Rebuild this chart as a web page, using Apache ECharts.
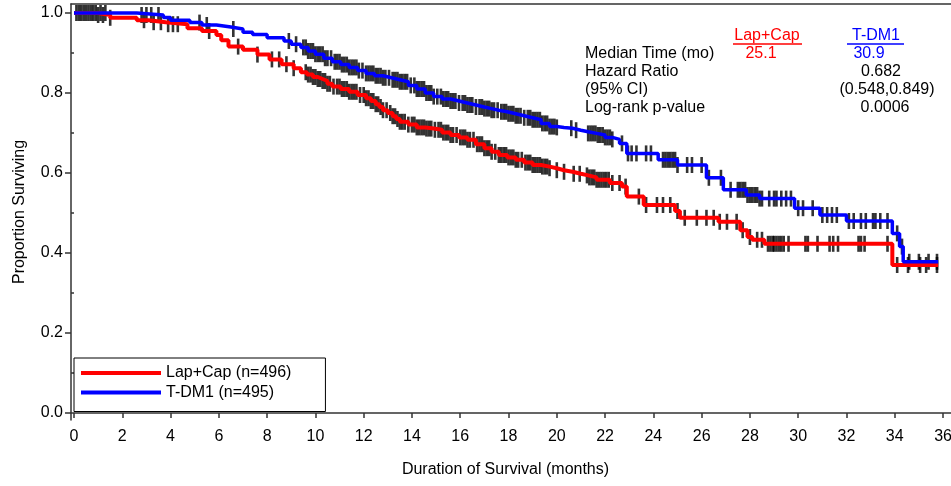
<!DOCTYPE html>
<html>
<head>
<meta charset="utf-8">
<title>Overall survival: Lap+Cap vs T-DM1</title>
<script src="https://cdn.jsdelivr.net/npm/echarts@6/dist/echarts.min.js"></script>
<style>
  html, body { margin: 0; padding: 0; background: #fff; }
  #chart { width: 951px; height: 486px; }
</style>
</head>
<body>
<div id="chart"></div>
<script>
// Kaplan-Meier steps: time of each drop (months) and survival after it
const lapCapTime = [0, 1.0, 1.5, 2.6, 3.1, 3.8, 4.7, 5.3, 5.9, 6.1, 6.4, 7.0, 7.6, 8.1, 8.6, 9.1, 9.4, 9.65,
  9.9, 10.1, 10.3, 10.5, 10.7, 11.05, 11.4, 11.75, 12.1, 12.3, 12.5, 12.65, 12.8, 13.0, 13.2, 13.35, 13.5,
  13.85, 14.2, 14.55, 14.9, 15.25, 15.6, 15.95, 16.3, 16.65, 17.0, 17.3, 17.6, 17.95, 18.3, 18.65, 19.0,
  19.35, 19.7, 20.0, 20.3, 20.65, 21.0, 21.3, 21.65, 22.2, 22.7, 22.9, 23.6, 24.9, 25.1, 26.7, 27.6,
  27.9, 28.1, 28.6, 33.9, 35.8];
const lapCapSurv = [1.000, 0.995, 0.988, 0.982, 0.977, 0.972, 0.962, 0.955, 0.945, 0.932, 0.916, 0.908, 0.896,
  0.884, 0.872, 0.862, 0.852, 0.846, 0.840, 0.835, 0.830, 0.823, 0.816, 0.810, 0.803, 0.795, 0.787, 0.780,
  0.772, 0.765, 0.757, 0.750, 0.742, 0.735, 0.728, 0.721, 0.714, 0.711, 0.708, 0.701, 0.695, 0.689, 0.683,
  0.672, 0.662, 0.653, 0.645, 0.639, 0.633, 0.626, 0.620, 0.616, 0.612, 0.607, 0.603, 0.598, 0.594, 0.589,
  0.583, 0.575, 0.566, 0.541, 0.520, 0.505, 0.488, 0.478, 0.457, 0.440, 0.433, 0.423, 0.370, 0.370];

const tdm1Time = [0, 2.6, 3.7, 4.0, 4.8, 5.3, 5.9, 6.5, 7.0, 7.4, 8.0, 8.7, 9.0, 9.4, 9.7, 10.0, 10.35, 10.7,
  11.05, 11.4, 11.75, 12.1, 12.45, 12.8, 13.15, 13.5, 13.85, 14.2, 14.55, 14.9, 15.25, 15.6, 15.95, 16.3,
  16.65, 17.0, 17.3, 17.6, 17.95, 18.3, 18.65, 19.0, 19.35, 19.7, 20.0, 20.3, 20.65, 21.0, 21.3, 21.65,
  22.0, 22.3, 22.6, 22.9, 24.2, 25.0, 26.2, 26.9, 27.85, 28.4, 29.85, 30.9, 32.0, 33.9, 34.2, 34.35, 35.8];
const tdm1Surv = [1.000, 0.995, 0.989, 0.982, 0.976, 0.970, 0.965, 0.960, 0.952, 0.946, 0.938, 0.930, 0.922,
  0.914, 0.905, 0.897, 0.887, 0.878, 0.871, 0.864, 0.856, 0.849, 0.843, 0.838, 0.833, 0.828, 0.819, 0.810,
  0.800, 0.791, 0.785, 0.780, 0.775, 0.770, 0.765, 0.761, 0.757, 0.753, 0.748, 0.743, 0.738, 0.733, 0.724,
  0.716, 0.714, 0.712, 0.707, 0.703, 0.699, 0.695, 0.689, 0.684, 0.674, 0.649, 0.633, 0.620, 0.588, 0.558,
  0.545, 0.536, 0.512, 0.495, 0.480, 0.449, 0.416, 0.378, 0.378];

// Censoring times (months)
const lapCapCensor = [0.2, 0.4, 0.6, 0.8, 1.0, 1.2, 1.5, 2.9, 3.3, 3.6, 3.9, 4.1, 4.3, 5.6, 6.8, 7.6, 8.2, 8.5,
  8.8, 9.1, 9.6, 9.7, 9.8, 9.9, 10.0, 10.1, 10.2, 10.3, 10.4, 10.5, 10.6, 10.75, 10.9, 11.0, 11.1, 11.2,
  11.3, 11.4, 11.5, 11.6, 11.7, 11.85, 12.0, 12.1, 12.2, 12.3, 12.4, 12.5, 12.6, 12.7, 12.8, 12.95, 13.1,
  13.2, 13.3, 13.4, 13.5, 13.6, 13.7, 13.85, 14.0, 14.1, 14.2, 14.3, 14.4, 14.5, 14.6, 14.7, 14.8, 14.95,
  15.1, 15.2, 15.3, 15.4, 15.5, 15.6, 15.7, 15.85, 16.0, 16.1, 16.2, 16.3, 16.4, 16.55, 16.7, 16.8, 16.9,
  17.0, 17.1, 17.2, 17.3, 17.45, 17.6, 17.7, 17.8, 17.9, 18.0, 18.1, 18.2, 18.3, 18.4, 18.55, 18.7, 18.8,
  18.9, 19.0, 19.1, 19.2, 19.3, 19.4, 19.5, 19.6, 19.7, 20.0, 20.3, 20.7, 20.95, 21.25, 21.35, 21.45,
  21.55, 21.65, 21.75, 21.85, 21.95, 22.05, 22.15, 22.3, 22.6, 22.85, 23.4, 23.7, 24.15, 24.4, 24.7, 25.0,
  25.3, 25.8, 26.2, 26.5, 26.75, 27.05, 27.45, 27.7, 28.0, 28.3, 28.5, 28.75, 28.85, 28.95, 29.0, 29.1,
  29.2, 29.3, 29.4, 29.6, 30.3, 30.4, 30.8, 31.3, 31.45, 31.65, 32.5, 32.6, 32.75, 33.7, 34.1, 34.55,
  35.05, 35.3, 35.75];
const tdm1Censor = [0.1, 0.3, 0.5, 0.7, 0.9, 1.1, 1.3, 2.8, 3.0, 3.2, 3.5, 5.2, 5.5, 6.6, 8.9, 9.2, 9.5, 9.6,
  9.7, 9.8, 9.9, 10.0, 10.1, 10.2, 10.3, 10.4, 10.5, 10.65, 10.8, 10.9, 11.0, 11.1, 11.2, 11.3, 11.4, 11.5,
  11.6, 11.7, 11.8, 11.95, 12.1, 12.2, 12.3, 12.4, 12.5, 12.6, 12.7, 12.8, 12.9, 13.05, 13.2, 13.3, 13.4,
  13.5, 13.6, 13.7, 13.8, 13.95, 14.1, 14.2, 14.3, 14.4, 14.5, 14.6, 14.7, 14.8, 14.9, 15.05, 15.2, 15.3,
  15.4, 15.5, 15.6, 15.7, 15.8, 15.95, 16.1, 16.2, 16.3, 16.4, 16.5, 16.65, 16.8, 16.9, 17.0, 17.1, 17.2,
  17.3, 17.4, 17.55, 17.7, 17.8, 17.9, 18.0, 18.1, 18.2, 18.3, 18.4, 18.5, 18.65, 18.8, 18.9, 19.0, 19.1,
  19.2, 19.3, 19.4, 19.5, 19.6, 19.7, 19.8, 19.9, 20.0, 20.6, 20.8, 21.3, 21.4, 21.5, 21.6, 21.7, 21.8,
  21.9, 22.0, 22.1, 22.2, 22.3, 22.7, 22.95, 23.1, 23.3, 23.7, 23.9, 24.4, 24.5, 24.6, 24.7, 24.8, 24.9,
  25.0, 25.4, 25.6, 26.0, 26.3, 26.8, 27.2, 27.5, 27.6, 27.7, 27.8, 27.9, 28.0, 28.1, 28.2, 28.3, 28.4,
  28.5, 28.8, 29.0, 29.1, 29.3, 29.5, 29.7, 30.0, 30.2, 30.6, 31.0, 31.2, 31.4, 31.6, 32.1, 32.3, 32.6,
  32.8, 33.1, 33.2, 33.4, 33.7, 34.1, 34.3, 34.6, 35.0, 35.4, 35.75];

const xTicks = [0, 2, 4, 6, 8, 10, 12, 14, 16, 18, 20, 22, 24, 26, 28, 30, 32, 34, 36];
const yTicks = [0, 0.2, 0.4, 0.6, 0.8, 1.0];
const yMinorTicks = [0.1, 0.3, 0.5, 0.7, 0.9];

const seriesNames = ['Lap+Cap (n=496)', 'T-DM1 (n=495)'];

const RED = '#ff0000';
const BLUE = '#0000ff';
const FONT = 'Liberation Sans, Arial, sans-serif';

function pairs(t, s) { return t.map((v, i) => [v, s[i]]); }

// survival level of a step curve at time t
function levelAt(times, surv, t) {
  let v = surv[0];
  for (let i = 0; i < times.length; i++) { if (times[i] <= t) v = surv[i]; }
  return v;
}
function censorPoints(censor, times, surv) {
  return censor.map(t => [t, levelAt(times, surv, t)]);
}

const axisLineStyle = { color: '#333', width: 1.5 };
const censorMark = { symbol: 'rect', symbolSize: [2.6, 16], itemStyle: { color: '#000' } };
const chart = echarts.init(document.getElementById('chart'), null, { renderer: 'canvas' });

chart.setOption({
  animation: false,
  backgroundColor: '#fff',
  textStyle: { fontFamily: FONT },
  grid: { left: 71, right: 0, top: 4, bottom: 66, containLabel: false, outerBoundsMode: 'none' },
  xAxis: [{
    type: 'value', min: -0.124, max: 36.33, position: 'bottom',
    name: 'Duration of Survival (months)', nameLocation: 'middle', nameGap: 42,
    nameTextStyle: { fontSize: 16, color: '#000', fontFamily: FONT, padding: [0, 11, 0, 0] },
    axisLine: { show: true, lineStyle: axisLineStyle },
    axisTick: { show: true, length: 5, inside: false, customValues: xTicks, lineStyle: axisLineStyle },
    axisLabel: { customValues: xTicks, margin: 9, fontSize: 16, color: '#000', fontFamily: FONT },
    splitLine: { show: false }
  }, {
    type: 'value', min: -0.124, max: 36.33, position: 'top',
    axisLine: { show: true, onZero: false, lineStyle: axisLineStyle },
    axisTick: { show: false }, axisLabel: { show: false }, splitLine: { show: false }
  }],
  yAxis: [{
    type: 'value', min: -0.0175, max: 1.0225, position: 'left',
    name: 'Proportion Surviving', nameLocation: 'middle', nameGap: 43,
    nameTextStyle: { fontSize: 16, color: '#000', fontFamily: FONT },
    axisLine: { show: true, onZero: false, lineStyle: axisLineStyle },
    axisTick: { show: true, length: 6, customValues: yTicks, lineStyle: axisLineStyle },
    axisLabel: { customValues: yTicks, margin: 8, fontSize: 16, color: '#000', fontFamily: FONT,
      formatter: v => v.toFixed(1) },
    splitLine: { show: false }
  }, {
    type: 'value', min: -0.0175, max: 1.0225, position: 'left',
    axisLine: { show: false },
    axisTick: { show: true, length: 3, customValues: yMinorTicks, lineStyle: axisLineStyle },
    axisLabel: { show: false }, splitLine: { show: false }
  }],
  legend: {
    data: seriesNames, orient: 'vertical', left: 74, top: 358,
    icon: 'rect', itemWidth: 80, itemHeight: 4, itemGap: 3.5,
    padding: [7, 34, 11, 7], borderColor: '#000', borderWidth: 1,
    selectedMode: false,
    textStyle: { fontSize: 16, color: '#000', fontFamily: FONT }
  },
  series: [Object.assign({
    name: 'Lap+Cap censored', type: 'scatter', xAxisIndex: 0, yAxisIndex: 0,
    data: censorPoints(lapCapCensor, lapCapTime, lapCapSurv), z: 2, silent: true
  }, censorMark), Object.assign({
    name: 'T-DM1 censored', type: 'scatter', xAxisIndex: 0, yAxisIndex: 0,
    data: censorPoints(tdm1Censor, tdm1Time, tdm1Surv), z: 2, silent: true
  }, censorMark), {
    name: seriesNames[0], type: 'line', step: 'end', xAxisIndex: 0, yAxisIndex: 0,
    data: pairs(lapCapTime, lapCapSurv), showSymbol: false,
    lineStyle: { color: RED, width: 4 }, itemStyle: { color: RED }, z: 3
  }, {
    name: seriesNames[1], type: 'line', step: 'end', xAxisIndex: 0, yAxisIndex: 0,
    data: pairs(tdm1Time, tdm1Surv), showSymbol: false,
    lineStyle: { color: BLUE, width: 3.5 }, itemStyle: { color: BLUE }, z: 4
  }],
  graphic: [
    { type: 'text', style: { text: 'Lap+Cap', x: 767, y: 36, fill: RED, font: '16px ' + FONT, align: 'center', verticalAlign: 'middle' } },
    { type: 'line', shape: { x1: 733, y1: 44, x2: 802, y2: 44 }, style: { stroke: RED, lineWidth: 1.5 } },
    { type: 'text', style: { text: 'T-DM1', x: 876, y: 36, fill: BLUE, font: '16px ' + FONT, align: 'center', verticalAlign: 'middle' } },
    { type: 'line', shape: { x1: 847, y1: 44, x2: 904, y2: 44 }, style: { stroke: BLUE, lineWidth: 1.5 } },
    { type: 'text', style: { text: 'Median Time (mo)', x: 585, y: 54, fill: '#000', font: '16px ' + FONT, align: 'left', verticalAlign: 'middle' } },
    { type: 'text', style: { text: '25.1', x: 761, y: 54, fill: RED, font: '16px ' + FONT, align: 'center', verticalAlign: 'middle' } },
    { type: 'text', style: { text: '30.9', x: 869, y: 54, fill: BLUE, font: '16px ' + FONT, align: 'center', verticalAlign: 'middle' } },
    { type: 'text', style: { text: 'Hazard Ratio', x: 585, y: 72, fill: '#000', font: '16px ' + FONT, align: 'left', verticalAlign: 'middle' } },
    { type: 'text', style: { text: '0.682', x: 881, y: 72, fill: '#000', font: '16px ' + FONT, align: 'center', verticalAlign: 'middle' } },
    { type: 'text', style: { text: '(95% CI)', x: 585, y: 89.5, fill: '#000', font: '16px ' + FONT, align: 'left', verticalAlign: 'middle' } },
    { type: 'text', style: { text: '(0.548,0.849)', x: 887, y: 89.5, fill: '#000', font: '16px ' + FONT, align: 'center', verticalAlign: 'middle' } },
    { type: 'text', style: { text: 'Log-rank p-value', x: 585, y: 107.5, fill: '#000', font: '16px ' + FONT, align: 'left', verticalAlign: 'middle' } },
    { type: 'text', style: { text: '0.0006', x: 885, y: 107.5, fill: '#000', font: '16px ' + FONT, align: 'center', verticalAlign: 'middle' } }
  ]
});
</script>
</body>
</html>
